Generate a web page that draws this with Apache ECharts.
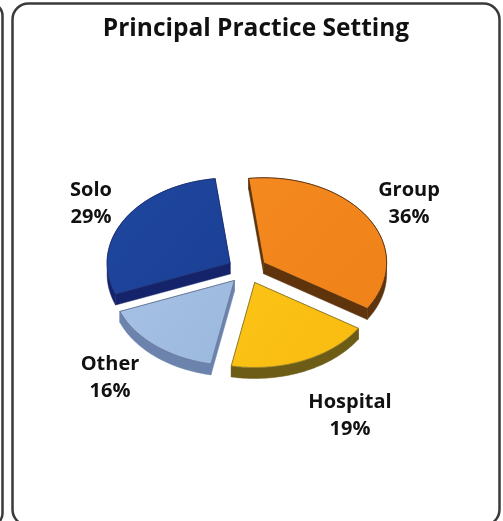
<!DOCTYPE html>
<html><head><meta charset="utf-8">
<style>html,body{margin:0;padding:0;background:#fff}#c{width:503px;height:521px}</style>
<script src="https://cdn.jsdelivr.net/npm/echarts@6/dist/echarts.min.js"></script>
</head><body><div id="c"></div>
<script>
const categories = ['Group', 'Hospital', 'Other', 'Solo'];
const shares = [36, 19, 16, 29];
const titleText = 'Principal Practice Setting';

// presentation
const topColors = ['#f4891f', '#fcc316', '#a6c1e4', '#1f479f'];
const topShade = ['#ef8219', '#f9bb10', '#9bb8de', '#1b3f95'];
const sideColors = ['#5f340c', '#6d5c16', '#6c83ad', '#15246a'];
const edgeColors = ['#4a2a0c', '#8a7a2a', '#5f6f90', '#1a2f70'];
const labelPos = [[409, 204], [350, 416], [110, 378], [91, 204]];
const CX = 247, CY = 270, RX = 123, RY = 85, DEPTH = 11, EXPLODE = 0.16, START = -7;
const total = shares.reduce((a, b) => a + b, 0);

function pt(cx, cy, deg, dy) {
  const r = deg * Math.PI / 180;
  return [cx + RX * Math.sin(r), cy - RY * Math.cos(r) + (dy || 0)];
}
function renderItem(params, api) {
  const i = params.dataIndex;
  let before = 0;
  for (let k = 0; k < i; k++) before += shares[k];
  const a0 = START + before / total * 360;
  const a1 = a0 + api.value(0) / total * 360;
  const mid = (a0 + a1) / 2 * Math.PI / 180;
  const ax = CX + EXPLODE * RX * Math.sin(mid);
  const ay = CY - EXPLODE * RY * Math.cos(mid);
  const arc = [], arcLow = [];
  for (let k = 0; k <= 48; k++) {
    const d = a0 + (a1 - a0) * k / 48;
    arc.push(pt(ax, ay, d));
    arcLow.push(pt(ax, ay, d, DEPTH));
  }
  const apex = [ax, ay], apexLow = [ax, ay + DEPTH];
  const side = { fill: sideColors[i], stroke: sideColors[i], lineWidth: 0.5 };
  const s = arc[0], e = arc[48], sl = arcLow[0], el = arcLow[48];
  return {
    type: 'group',
    children: [
      { type: 'polygon', shape: { points: arc.concat(arcLow.slice().reverse()) }, style: side },
      { type: 'polygon', shape: { points: [apex, s, sl, apexLow] }, style: side },
      { type: 'polygon', shape: { points: [apex, e, el, apexLow] }, style: side },
      { type: 'polygon', shape: { points: [apex].concat(arc) },
        style: {
          fill: new echarts.graphic.LinearGradient(0, 0, 1, 1, [
            { offset: 0, color: topColors[i] }, { offset: 1, color: topShade[i] }]),
          stroke: edgeColors[i], lineWidth: 0.8, lineJoin: 'round'
        } },
      { type: 'text', style: {
          x: labelPos[i][0], y: labelPos[i][1],
          text: categories[i] + '\n' + api.value(0) + '%',
          fill: '#111', font: 'bold 20px "Open Sans"', align: 'center',
          verticalAlign: 'middle', lineHeight: 27.5 } }
    ]
  };
}
const frame = { stroke: '#3a3a3c', fill: 'none', lineWidth: 2.5 };
const chart = echarts.init(document.getElementById('c'), null, { renderer: 'canvas' });
chart.setOption({
  animation: false,
  backgroundColor: '#fff',
  title: { text: titleText, left: 251, top: 12, textAlign: 'center',
    textStyle: { fontFamily: 'Open Sans', fontWeight: 'bold', fontSize: 24.5, color: '#111' } },
  graphic: [
    { type: 'rect', shape: { x: 12.5, y: 3.5, width: 487, height: 522, r: 16 }, style: frame, silent: true },
    { type: 'rect', shape: { x: -500, y: 3.5, width: 502.5, height: 522, r: 12 }, style: frame, silent: true }
  ],
  series: [{
    type: 'custom', coordinateSystem: 'none', renderItem,
    data: shares.map((v, i) => ({ name: categories[i], value: [v] }))
  }]
});
</script></body></html>
